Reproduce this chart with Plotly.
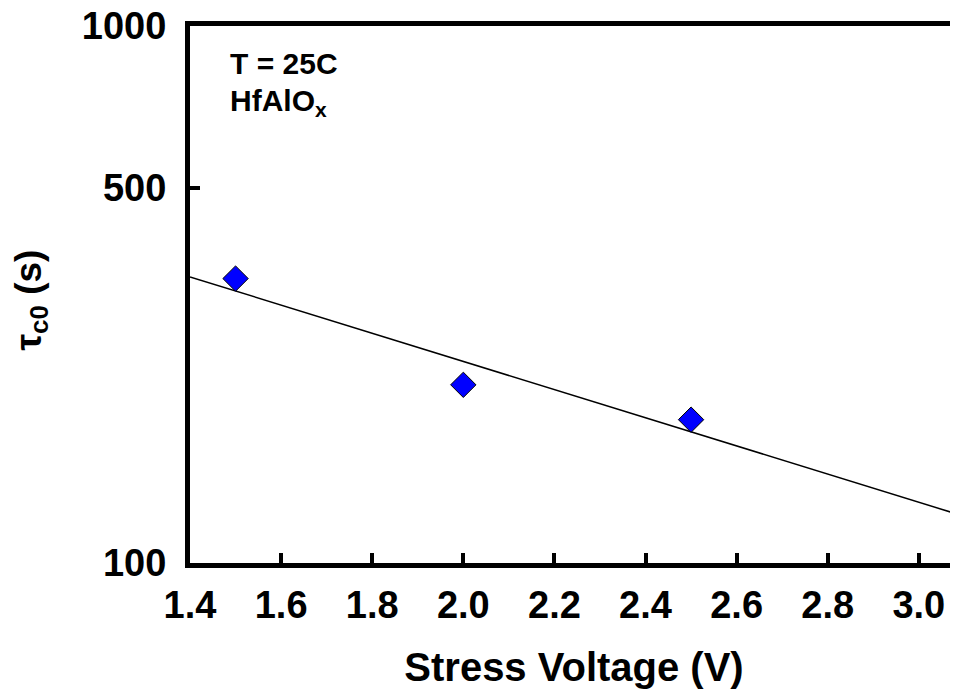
import plotly.graph_objects as go

# Data
stress_voltage = [1.5, 2.0, 2.5]
tau_c0 = [338.6, 214.7, 184.9]

fit_x = [1.4, 3.2]
fit_y = [341.0, 115.0]

x_tick_vals = [1.4, 1.6, 1.8, 2.0, 2.2, 2.4, 2.6, 2.8, 3.0]
x_tick_text = ["1.4", "1.6", "1.8", "2.0", "2.2", "2.4", "2.6", "2.8", "3.0"]
y_tick_vals = [100, 500, 1000]
y_tick_text = ["100", "500", "1000"]

FONT = "Liberation Sans, Arial, sans-serif"

fig = go.Figure()
fig.add_trace(go.Scatter(
    x=fit_x, y=fit_y, mode="lines",
    line=dict(color="black", width=1.5),
    showlegend=False, hoverinfo="skip",
))
fig.add_trace(go.Scatter(
    x=stress_voltage, y=tau_c0, mode="markers",
    marker=dict(symbol="diamond", size=19.5, color="#0000FF",
                line=dict(color="black", width=1)),
    showlegend=False,
))

ann_font = dict(family=FONT, size=30, color="black", weight="bold")
fig.add_annotation(
    x=0.0495, y=0.9637, xref="paper", yref="paper",
    xanchor="left", yanchor="top", align="left", showarrow=False,
    text="T = 25C", font=ann_font,
)
fig.add_annotation(
    x=0.0495, y=0.8949, xref="paper", yref="paper",
    xanchor="left", yanchor="top", align="left", showarrow=False,
    text="HfAlO<sub>x</sub>", font=ann_font,
)
# y-axis title
fig.add_annotation(
    x=-0.2070, y=0.489, xref="paper", yref="paper",
    xanchor="center", yanchor="middle", showarrow=False, textangle=-90,
    text="τ<sub>c0</sub> (s)",
    font=dict(family=FONT, size=37, color="black", weight="bold"),
)

fig.update_layout(
    width=950, height=685,
    margin=dict(l=182, r=0, t=17.5, b=130),
    paper_bgcolor="white", plot_bgcolor="white",
    xaxis=dict(
        range=[1.4, 3.086],
        tickvals=x_tick_vals, ticktext=x_tick_text,
        ticks="inside", ticklen=10, tickwidth=4, tickcolor="black",
        showline=True, linewidth=5, linecolor="black", mirror=True,
        showgrid=False, zeroline=False, automargin=False,
        ticklabelstandoff=4, ticklabeloverflow="allow",
        tickfont=dict(family=FONT, size=38, color="black", weight="bold"),
        title=dict(text="Stress Voltage (V)", standoff=30,
                   font=dict(family=FONT, size=40, color="black", weight="bold")),
    ),
    yaxis=dict(
        type="log", range=[2, 3],
        tickvals=y_tick_vals, ticktext=y_tick_text,
        ticks="inside", ticklen=10, tickwidth=4, tickcolor="black",
        showline=True, linewidth=5, linecolor="black", mirror=False,
        showgrid=False, zeroline=False, automargin=False,
        ticklabelstandoff=11, ticklabeloverflow="allow",
        tickfont=dict(family=FONT, size=38, color="black", weight="bold"),
    ),
)

fig.write_html("out.html")
